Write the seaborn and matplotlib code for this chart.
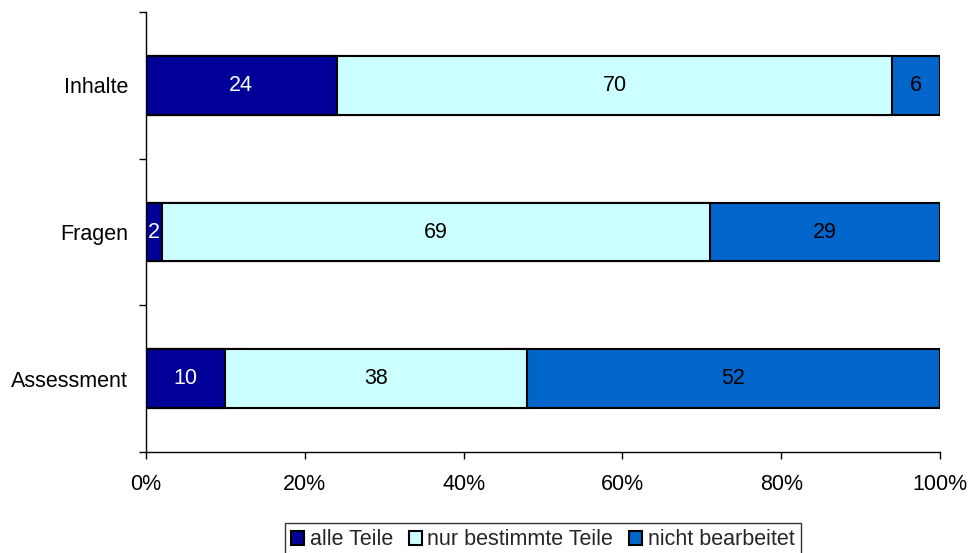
import matplotlib
matplotlib.use("Agg")
import matplotlib.pyplot as plt
from matplotlib.patches import Patch
import numpy as np
import pandas as pd
import seaborn as sns

categories = ["Inhalte", "Fragen", "Assessment"]
series_names = ["alle Teile", "nur bestimmte Teile", "nicht bearbeitet"]
alle_teile = [24, 2, 10]
nur_bestimmte = [70, 69, 38]
nicht_bearbeitet = [6, 29, 52]
x_ticks = [0, 20, 40, 60, 80, 100]
x_tick_labels = ["0%", "20%", "40%", "60%", "80%", "100%"]

colors = ["#000099", "#CCFFFF", "#0066CC"]
text_colors = ["white", "black", "black"]
FS = 15.5

sns.set_theme(style="white")
plt.rcParams["font.family"] = ["Liberation Sans", "DejaVu Sans"]

values = np.array([alle_teile, nur_bestimmte, nicht_bearbeitet], dtype=float)
cum = np.cumsum(values, axis=0)
starts = cum - values

fig = plt.figure(figsize=(9.7, 5.53), dpi=100)
ax = fig.add_axes([146 / 970, 1 - 452 / 553, 794 / 970, 440 / 553])

# Stacked bars: draw cumulative totals from the largest down so each segment shows
for i in reversed(range(len(series_names))):
    df = pd.DataFrame({"Kategorie": categories, "Wert": cum[i]})
    sns.barplot(data=df, x="Wert", y="Kategorie", order=categories, orient="h",
                color=colors[i], saturation=1, width=0.4, edgecolor="black",
                linewidth=1.5, ax=ax)

for i in range(len(series_names)):
    for j, cat in enumerate(categories):
        ax.text(starts[i, j] + values[i, j] / 2, j, f"{int(values[i, j])}",
                ha="center", va="center", fontsize=FS, color=text_colors[i])

ax.set_xlim(0, 100)
ax.set_ylim(2.5, -0.5)
ax.set_xticks(x_ticks)
ax.set_xticklabels(x_tick_labels, fontsize=FS)
ax.set_yticks(range(len(categories)))
ax.set_yticklabels(categories, fontsize=FS)
ax.set_yticks([-0.5, 0.5, 1.5, 2.5], minor=True)
ax.tick_params(axis="y", which="major", length=0, pad=13, colors="black")
ax.tick_params(axis="y", which="minor", length=5, width=1, direction="out", color="black", left=True)
ax.tick_params(axis="x", which="major", length=5, width=1, direction="out", color="black",
               bottom=True, pad=11, labelcolor="black")
ax.set_xlabel("")
ax.set_ylabel("")
for side in ["top", "right"]:
    ax.spines[side].set_visible(False)
for side in ["left", "bottom"]:
    ax.spines[side].set_color("black")
    ax.spines[side].set_linewidth(1)
ax.grid(False)

handles = [Patch(facecolor=c, edgecolor="black", linewidth=1.5) for c in colors]
leg = fig.legend(handles, series_names, loc="upper center",
                 bbox_to_anchor=(543 / 970, 1 - 523 / 553), ncol=3, fontsize=FS,
                 frameon=True, fancybox=False, shadow=False, handlelength=0.6,
                 handleheight=0.6, handletextpad=0.25, columnspacing=0.75,
                 borderpad=0.3, borderaxespad=0)
leg.get_frame().set_edgecolor("black")
leg.get_frame().set_linewidth(1)

fig.savefig("out.png", dpi=100, facecolor="white")
